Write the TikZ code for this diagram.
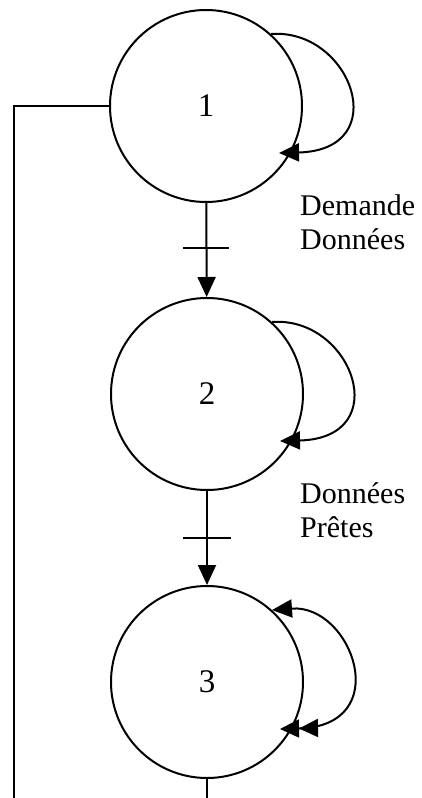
\documentclass[tikz,border=0pt]{standalone}
\usepackage{fontspec}
\setmainfont{Liberation Serif}
\usetikzlibrary{arrows.meta,calc}

\begin{document}
\begin{tikzpicture}[x=1pt, y=-1pt,
  state/.style={circle, draw=black, line width=2pt, minimum size=192pt,
    inner sep=0pt, font=\fontsize{33}{36}\selectfont},
  label/.style={align=left, anchor=west, inner sep=0pt,
    font=\fontsize{30}{34}\selectfont},
  link/.style={line width=2pt, draw=black},
  arrow/.style={link, -{Triangle[length=20pt, width=18pt]}},
  bothloop/.style={link, {Triangle[length=20pt, width=18pt]}-{Triangle[length=19pt, width=18pt]Triangle[length=19pt, width=18pt]}}
]
\useasboundingbox (0,0) rectangle (421,798);
\node[state] (s1) at (206,106) {1};
\node[state] (s2) at (207,394) {2};
\node[state] (s3) at (207,682) {3};
\node[label] (lab1) at (300,222) {Demande\\Données};
\node[label] (lab2) at (300,510) {Données\\Prêtes};
\coordinate (left) at (14,798);
\coordinate (bot) at (207,798);
% transitions
\draw[arrow] (s1) -- coordinate[pos=0.48] (k12) (s2);
\draw[arrow] (s2) -- coordinate[pos=0.5] (k23) (s3);
\draw[link] (k12) +(-23,0) -- +(23,0);
\draw[link] (k23) +(-24,0) -- +(24,0);
% self loops
\draw[arrow] ($(s1)+(65,-72)$) .. controls +(80,-6) and +(116,-3) .. ($(s1)+(73,47)$);
\draw[arrow] ($(s2)+(65,-72)$) .. controls +(80,-6) and +(116,-3) .. ($(s2)+(73,47)$);
\draw[bothloop] ($(s3)+(65,-72)$) .. controls +(80,-6) and +(116,-3) .. ($(s3)+(73,47)$);
% return line
\draw[link] (s1.west) -| (left);
\draw[link] (s3.south) -- (bot);
\end{tikzpicture}
\end{document}
